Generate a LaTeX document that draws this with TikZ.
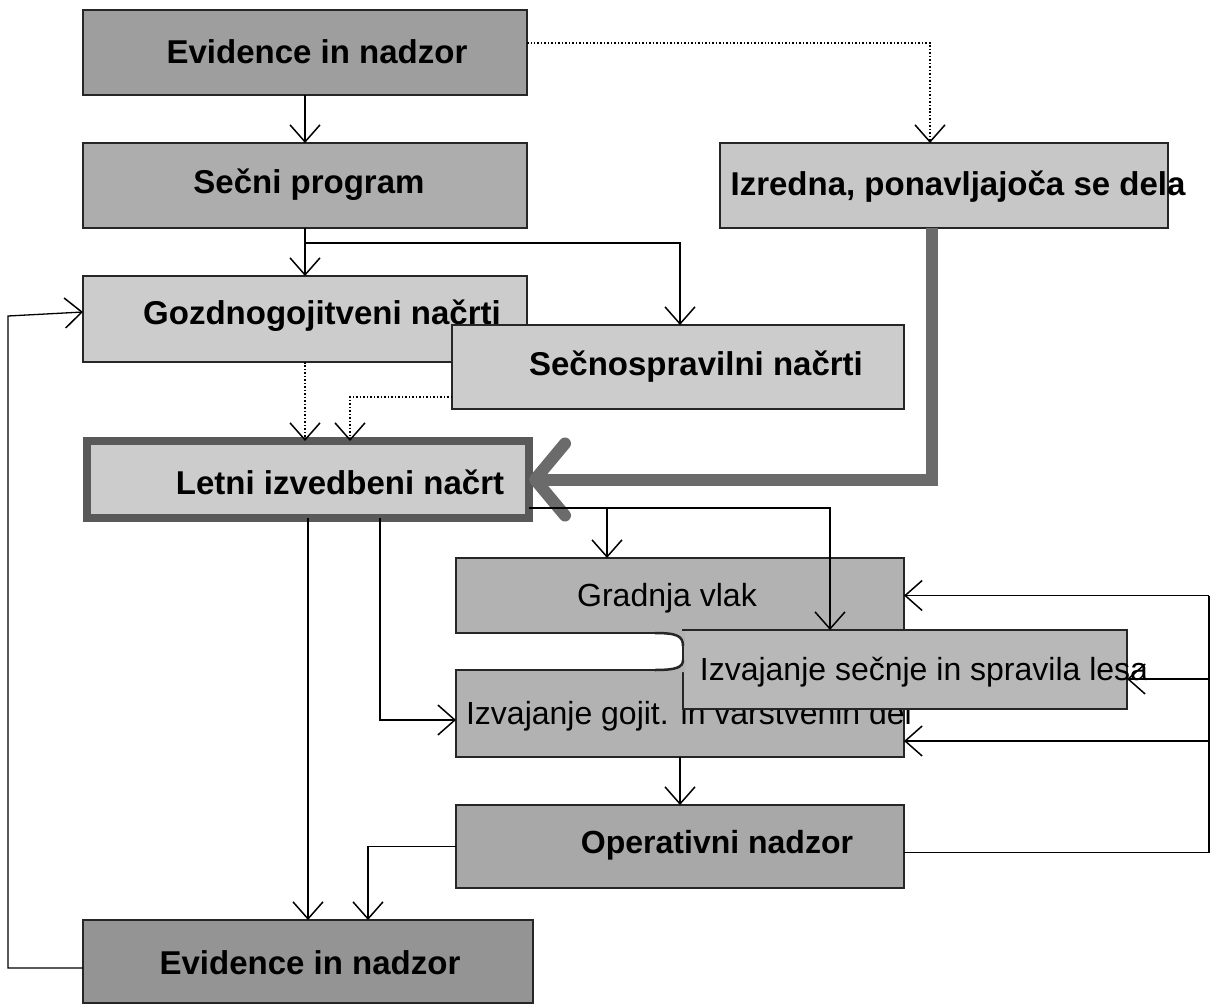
\documentclass[tikz,border=0pt]{standalone}
\usepackage{fontspec}
\setmainfont{Liberation Sans}
\usetikzlibrary{arrows.meta}
\begin{document}
\begin{tikzpicture}[x=1bp,y=-1bp,
  box/.style={draw=black!85,line width=2.5bp,inner sep=0pt,outer sep=0pt},
  bl/.style={inner sep=0pt,font=\bfseries\fontsize{33bp}{38bp}\selectfont},
  rl/.style={inner sep=0pt,font=\fontsize{32bp}{38bp}\selectfont},
  arr/.style={line width=1.3bp,-{Straight Barb[length=17bp,width=30bp,line width=1.5bp]}},
  dline/.style={line width=1.5bp,dotted},
  fat/.style={line width=12bp,draw=black!58,-{Straight Barb[length=30bp,width=72bp,line width=12bp,round]}}
]
\fill[white] (0,0) rectangle (1211,1008);
\useasboundingbox (0,0) rectangle (1211,1008);

% top boxes
\node[box,fill=black!38,minimum width=444bp,minimum height=85bp] (ev1) at (305,52.5) {};
\node[bl] (ev1t) at (317,52) {Evidence in nadzor};
\node[box,fill=black!32,minimum width=444bp,minimum height=85bp] (sp) at (305,185.5) {};
\node[bl] (spt) at (309,185) {Sečni program};
\node[box,fill=black!22,minimum width=448bp,minimum height=85bp] (izr) at (944,185.5) {};
\node[bl] (izrt) at (958,187) {Izredna, ponavljajoča se dela};
\node[box,fill=black!20,minimum width=444bp,minimum height=86bp] (gozd) at (305,319) {};
\node[bl] (gozdt) at (322,316) {Gozdnogojitveni načrti};
\node[box,fill=black!20,minimum width=452bp,minimum height=84bp] (secn) at (678,367) {};
\node[bl] (secnt) at (696,367) {Sečnospravilni načrti};
\node[draw=black!65,line width=8bp,fill=black!20,inner sep=0pt,outer sep=0pt,minimum width=442bp,minimum height=77bp] (letni) at (308,479.5) {};
\node[bl] (letnit) at (340,482) {Letni izvedbeni načrt};

% connectors top
\draw[arr] (ev1.south) -- (sp.north);
\draw[dline,-{Straight Barb[length=17bp,width=30bp,line width=1.5bp]}] ([yshift=9.5bp]ev1.east) -| ([xshift=-14bp]izr.north);
\draw[arr] (sp.south) -- (gozd.north);
\draw[arr] ([yshift=-15bp]sp.south) -| ([xshift=2bp]secn.north);
\draw[dline,-{Straight Barb[length=17bp,width=30bp,line width=1.5bp]}] (gozd.south) -- (gozd.south |- letni.north);
\draw[dline,-{Straight Barb[length=17bp,width=30bp,line width=1.5bp]}] ([yshift=-30bp]secn.west) -| ([xshift=42bp]letni.north);
\draw[fat] ([xshift=-12bp]izr.south) |- (letni.east);

% middle boxes
\node[box,fill=black!30,minimum width=448bp,minimum height=75bp] (grad) at (680,595.5) {};
\node[rl] (gradt) at (667,598) {Gradnja vlak};
\node[box,fill=black!30,minimum width=448bp,minimum height=87bp] (goj) at (680,713.5) {};
\node[rl] (gojt) at (689,716) {Izvajanje gojit. in varstvenih del};
\coordinate (j1) at (607,508);
\node[box,fill=black!28,minimum width=444bp,minimum height=79bp] (sec) at (905,669.5) {};
\node[rl] (sect) at (924,672) {Izvajanje sečnje in spravila lesa};
\draw[arr] ([yshift=-28.5bp]letni.east) -| ([xshift=-75bp]sec.north);
\draw[arr] (j1) -- (j1 |- grad.north);
% junction curves
\fill[black!30] (655,633) .. controls (677,633) and (683,636) .. (683,646) -- (685,646) -- (685,631) -- (655,631) -- cycle;
\draw[line width=2.5bp,draw=black!85] (655,633) .. controls (677,633) and (683,636) .. (683,646);
\fill[black!30] (655,670) .. controls (677,670) and (683,667) .. (683,660) -- (685,660) -- (685,672) -- (655,672) -- cycle;
\draw[line width=2.5bp,draw=black!85] (655,670) .. controls (677,670) and (683,667) .. (683,660);

\node[box,fill=black!34,minimum width=448bp,minimum height=83bp] (op) at (680,846.5) {};
\node[bl,font=\bfseries\fontsize{32bp}{38bp}\selectfont] (opt) at (717,845) {Operativni nadzor};
\node[box,fill=black!42,minimum width=450bp,minimum height=83bp] (ev2) at (308,961.5) {};
\node[bl] (ev2t) at (310,963) {Evidence in nadzor};

% lower connectors
\draw[arr] (letni.south) -- (letni.south |- ev2.north);
\draw[arr] ([xshift=72bp]letni.south) |- ([yshift=-6.5bp]goj.west);
\draw[arr] (goj.south) -- (op.north);
\draw[arr] (op.west) -| ([xshift=60bp]ev2.north);
\coordinate (rtop) at (1209,595.5);
\draw[line width=1.3bp] ([yshift=-6bp]op.east) -| (rtop);
\draw[arr] (rtop) -- (grad.east);
\draw[arr] ([yshift=-9.5bp]sec.east -| rtop) -- ([yshift=-9.5bp]sec.east);
\draw[arr] ([yshift=-27.5bp]goj.east -| rtop) -- ([yshift=-27.5bp]goj.east);
\coordinate (lc) at (8,316);
\draw[arr] ([yshift=-6.5bp]ev2.west) -| (lc) -- ([yshift=7bp]gozd.west);
\end{tikzpicture}
\end{document}
